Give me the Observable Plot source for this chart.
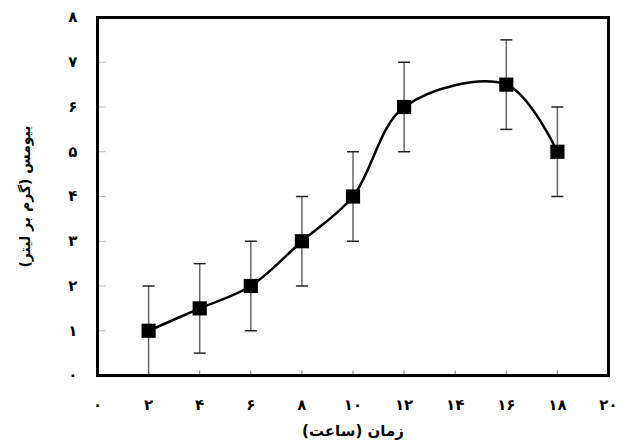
<!DOCTYPE html>
<html><head><meta charset="utf-8">
<script src="https://cdn.jsdelivr.net/npm/d3@7"></script>
<script src="https://cdn.jsdelivr.net/npm/@observablehq/plot@0.6"></script>
<style>body{margin:0;background:#fff}</style>
</head><body><div id="chart"></div>
<script>
const hours = [2, 4, 6, 8, 10, 12, 16, 18];
const biomass = [1, 1.5, 2, 3, 4, 6, 6.5, 5];
const errors = [1, 1, 1, 1, 1, 1, 1, 1];
const xTicks = [0, 2, 4, 6, 8, 10, 12, 14, 16, 18, 20];
const yTicks = [0, 1, 2, 3, 4, 5, 6, 7, 8];
const xLabel = "زمان (ساعت)";
const yLabel = "بیومس (گرم بر لیتر)";

const RLM = "\u200F";
const fa = n => String(n).replace(/\d/g, d => "۰۱۲۳۴۵۶۷۸۹"[d]);
const data = hours.map((h, i) => ({x: h, y: biomass[i], lo: biomass[i] - errors[i], hi: biomass[i] + errors[i]}));

const capSymbol = {draw(ctx) { ctx.moveTo(-6, 0); ctx.lineTo(6, 0); }};
const upTick = {draw(ctx) { ctx.moveTo(0, 0); ctx.lineTo(0, -5); }};
const rightTick = {draw(ctx) { ctx.moveTo(0, 0); ctx.lineTo(8, 0); }};

const chart = Plot.plot({
  width: 625, height: 443,
  marginLeft: 97, marginRight: 17, marginTop: 17, marginBottom: 68,
  x: {domain: [0, 20]},
  y: {domain: [0, 8]},
  style: {fontFamily: "DejaVu Sans", fontWeight: "bold", fontSize: "15px", color: "#000", background: "#fff"},
  marks: [
    Plot.dot(xTicks.slice(1, -1), {x: d => d, y: yTicks[0], symbol: upTick, stroke: "#777", strokeWidth: 1}),
    Plot.dot(yTicks.slice(1, -1), {x: xTicks[0], y: d => d, symbol: rightTick, stroke: "#bbb", strokeWidth: 1}),
    Plot.axisX(xTicks, {tickSize: 0, tickPadding: 24, tickFormat: fa, fontSize: 15,
      label: null}),
    Plot.axisX({ticks: [], tickSize: 0, fontSize: 15,
      label: RLM + xLabel + RLM, labelAnchor: "center", labelOffset: 60, labelArrow: "none"}),
    Plot.axisY(yTicks, {tickSize: 0, tickPadding: 20, tickFormat: fa, fontSize: 15,
      label: null}),
    Plot.axisY({ticks: [], tickSize: 0, fontSize: 14,
      label: RLM + yLabel + RLM, labelAnchor: "center", labelOffset: 77, labelArrow: "none"}),
    Plot.ruleX(data, {x: "x", y1: "lo", y2: "hi", stroke: "#666", strokeWidth: 1.5}),
    Plot.dot(data, {x: "x", y: "lo", symbol: capSymbol, stroke: "#222", strokeWidth: 1.5, r: 6}),
    Plot.dot(data, {x: "x", y: "hi", symbol: capSymbol, stroke: "#222", strokeWidth: 1.5, r: 6}),
    Plot.line(data, {x: "x", y: "y", curve: "catmull-rom", stroke: "#000", strokeWidth: 2.5}),
    Plot.dot(data, {x: "x", y: "y", symbol: "square", fill: "#000", r: 8}),
    Plot.frame({stroke: "#000", strokeWidth: 3})
  ]
});
document.getElementById("chart").append(chart);
</script>
</body></html>
